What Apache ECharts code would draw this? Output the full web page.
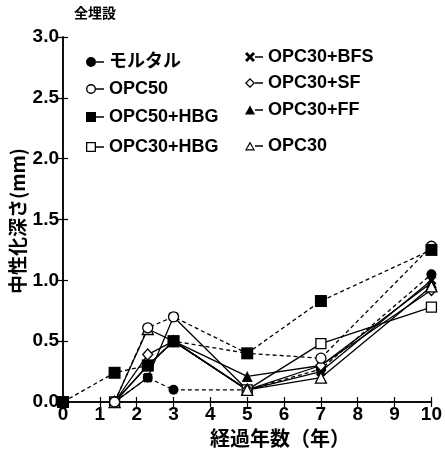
<!DOCTYPE html>
<html>
<head>
<meta charset="utf-8">
<script src="https://cdn.jsdelivr.net/npm/echarts@6/dist/echarts.min.js"></script>
<style>
  html, body { margin: 0; padding: 0; background: #fff; }
  #chart { width: 445px; height: 454px; }
</style>
</head>
<body>
<div id="chart"></div>
<script>
// Carbonation depth (mm) against elapsed years, fully buried specimens
const yearsCommon = [1.4, 2.3, 3, 5, 7, 10];
const yearsHBG50 = [0, 1.4, 2.3, 3, 5, 7, 10];

const mortar   = [0, 0.20, 0.10, 0.10, 0.27, 1.05];
const opc50    = [0, 0.61, 0.70, 0.40, 0.36, 1.28];
const opc50hbg = [0, 0.24, 0.30, 0.50, 0.40, 0.83, 1.25];
const opc30hbg = [0, 0.30, 0.50, 0.10, 0.48, 0.78];
const opc30bfs = [0, 0.20, 0.70, 0.10, 0.25, 1.00];
const opc30sf  = [0, 0.39, 0.50, 0.10, 0.30, 0.92];
const opc30ff  = [0, 0.30, 0.50, 0.21, 0.30, 0.98];
const opc30    = [0, 0.60, 0.50, 0.10, 0.20, 0.95];

const seriesNames = ['モルタル', 'OPC50', 'OPC50+HBG', 'OPC30+HBG',
                     'OPC30+BFS', 'OPC30+SF', 'OPC30+FF', 'OPC30'];
const xTicks = { min: 0, max: 10, step: 1 };
const yTicks = { min: 0, max: 3, step: 0.5 };

const FONT = '"Liberation Sans", Arial, "Noto Sans CJK JP", sans-serif';
const JP = '"Noto Sans CJK JP", "Liberation Sans", sans-serif';

const pair = (xs, ys) => ys.map((v, i) => [xs[i], v]);

const crossPath = 'path://M2,0 L5,3 L8,0 L10,2 L7,5 L10,8 L8,10 L5,7 L2,10 L0,8 L3,5 L0,2 Z';

// legend glyphs: marker (0..10) followed by a lead line up to the label
const lead = ' M10,4.3 L18,4.3 L18,5.7 L10,5.7 Z';
const legendIcons = {
  dotFill:  'path://M0,5 A5,5 0 1,1 10,5 A5,5 0 1,1 0,5 Z' + lead,
  dotOpen:  'path://M0,5 A5,5 0 1,1 10,5 A5,5 0 1,1 0,5 Z M1.4,5 A3.6,3.6 0 1,0 8.6,5 A3.6,3.6 0 1,0 1.4,5 Z' + lead,
  boxFill:  'path://M0,0 L10,0 L10,10 L0,10 Z' + lead,
  boxOpen:  'path://M0,0 L10,0 L10,10 L0,10 Z M1.3,1.3 L1.3,8.7 L8.7,8.7 L8.7,1.3 Z' + lead,
  cross:    'path://M2,0 L5,3 L8,0 L10,2 L7,5 L10,8 L8,10 L5,7 L2,10 L0,8 L3,5 L0,2 Z' + lead,
  diaOpen:  'path://M5,0 L10,5 L5,10 L0,5 Z M5,1.8 L1.8,5 L5,8.2 L8.2,5 Z' + lead,
  triFill:  'path://M5,0.5 L10,9.5 L0,9.5 Z M0,0 L0,0.01 Z M0,10 L0,9.99 Z' + lead,
  triOpen:  'path://M5,0.5 L10,9.5 L0,9.5 Z M5,3 L1.9,8.3 L8.1,8.3 Z M0,0 L0,0.01 Z M0,10 L0,9.99 Z' + lead
};

function lineSeries(name, xs, ys, symbol, size, filled, dashed, z) {
  return {
    name: name,
    type: 'line',
    data: pair(xs, ys),
    symbol: symbol,
    symbolSize: size,
    showAllSymbol: true,
    lineStyle: { color: '#000', width: 1.3, type: dashed ? [4, 3] : 'solid' },
    itemStyle: filled
      ? { color: '#000', borderColor: '#000', borderWidth: 0 }
      : { color: '#fff', borderColor: '#000', borderWidth: 1.3 },
    emphasis: { disabled: true },
    animation: false,
    z: z
  };
}

const series = [
  lineSeries('OPC30+HBG', yearsCommon, opc30hbg, 'rect', 10, false, false, 4),
  lineSeries('OPC30+BFS', yearsCommon, opc30bfs, crossPath, 10, true, false, 3),
  lineSeries('OPC30+SF', yearsCommon, opc30sf, 'diamond', [10, 11], false, false, 4),
  lineSeries('OPC30+FF', yearsCommon, opc30ff, 'triangle', 11, true, false, 3),
  lineSeries('OPC30', yearsCommon, opc30, 'triangle', 11, false, false, 4),
  lineSeries('モルタル', yearsCommon, mortar, 'circle', 10, true, true, 3),
  lineSeries('OPC50', yearsCommon, opc50, 'circle', 10, false, true, 4),
  lineSeries('OPC50+HBG', yearsHBG50, opc50hbg, 'rect', 12, true, true, 5)
];

const legendSpots = [
  { name: 'モルタル',  icon: legendIcons.dotFill, left: 86,  cy: 62 },
  { name: 'OPC50',     icon: legendIcons.dotOpen, left: 86,  cy: 89 },
  { name: 'OPC50+HBG', icon: legendIcons.boxFill, left: 86,  cy: 117 },
  { name: 'OPC30+HBG', icon: legendIcons.boxOpen, left: 86,  cy: 147 },
  { name: 'OPC30+BFS', icon: legendIcons.cross,   left: 245, cy: 57 },
  { name: 'OPC30+SF',  icon: legendIcons.diaOpen, left: 245, cy: 83 },
  { name: 'OPC30+FF',  icon: legendIcons.triFill, left: 245, cy: 110 },
  { name: 'OPC30',     icon: legendIcons.triOpen, left: 245, cy: 146 }
];

const legends = legendSpots.map(s => ({
  left: s.left,
  top: s.cy - 10,
  padding: 0,
  itemWidth: 18,
  itemHeight: 10,
  selectedMode: false,
  data: [{ name: s.name, icon: s.icon, itemStyle: { color: '#000', borderWidth: 0 } }],
  textStyle: { fontFamily: FONT, fontSize: 18, fontWeight: 'bold', color: '#000', lineHeight: 20 }
}));

const axisLine = { show: true, lineStyle: { color: '#000', width: 1.5 } };
const tickIn = { show: true, inside: true, length: 5, lineStyle: { color: '#000', width: 1.2 } };

const option = {
  backgroundColor: '#fff',
  animation: false,
  grid: { left: 63, right: 13, top: 37, bottom: 52, containLabel: false },
  legend: legends,
  xAxis: [
    {
      type: 'value', position: 'bottom',
      min: xTicks.min, max: xTicks.max, interval: xTicks.step,
      axisLine: axisLine, axisTick: tickIn, splitLine: { show: false },
      axisLabel: { color: '#000', fontFamily: FONT, fontSize: 19, fontWeight: 'bold', margin: 3 }
    },
    {
      type: 'value', position: 'top',
      min: xTicks.min, max: xTicks.max, interval: xTicks.step,
      axisLine: axisLine, axisTick: tickIn, splitLine: { show: false },
      axisLabel: { show: false }
    }
  ],
  yAxis: [
    {
      type: 'value', position: 'left',
      min: yTicks.min, max: yTicks.max, interval: yTicks.step,
      axisLine: axisLine, axisTick: tickIn, splitLine: { show: false },
      axisLabel: {
        color: '#000', fontFamily: FONT, fontSize: 19, fontWeight: 'bold', margin: 4,
        formatter: v => v.toFixed(1)
      }
    },
    {
      type: 'value', position: 'right',
      min: yTicks.min, max: yTicks.max, interval: yTicks.step,
      axisLine: axisLine, axisTick: tickIn, splitLine: { show: false },
      axisLabel: { show: false }
    }
  ],
  graphic: [
    {
      type: 'text', left: 74, top: 6,
      style: { text: '全埋設', font: 'bold 14px ' + JP, fill: '#000' }
    },
    {
      type: 'text', x: 280, y: 438,
      style: { text: '経過年数（年）', font: 'bold 20px ' + JP, fill: '#000',
               align: 'center', verticalAlign: 'middle' }
    },
    {
      type: 'text', x: 18, y: 221, rotation: Math.PI / 2,
      style: { text: '中性化深さ(mm)', font: 'bold 19px ' + JP, fill: '#000',
               align: 'center', verticalAlign: 'middle' }
    }
  ],
  series: series
};

const chart = echarts.init(document.getElementById('chart'), null, { renderer: 'canvas' });
chart.setOption(option);
</script>
</body>
</html>
